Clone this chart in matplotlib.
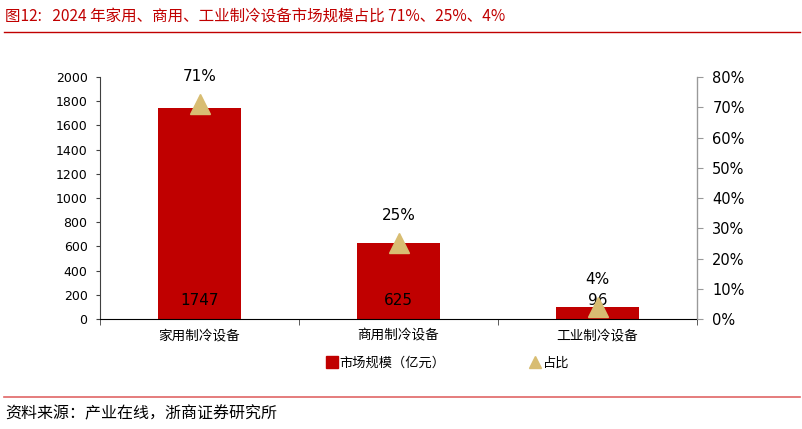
import numpy as np
import matplotlib
matplotlib.use('Agg')
import matplotlib.pyplot as plt
from matplotlib.lines import Line2D
from matplotlib.ticker import FuncFormatter

plt.rcParams['font.family'] = ['DejaVu Sans', 'Noto Sans CJK SC']

# données
categories = ['家用制冷设备', '商用制冷设备', '工业制冷设备']
market_size = [1747, 625, 96]        # 亿元
share = [0.71, 0.25, 0.04]
share_labels = ['71%', '25%', '4%']
left_ticks = [0, 200, 400, 600, 800, 1000, 1200, 1400, 1600, 1800, 2000]
right_ticks = [0, 0.1, 0.2, 0.3, 0.4, 0.5, 0.6, 0.7, 0.8]

title = '图12:   2024 年家用、商用、工业制冷设备市场规模占比 71%、25%、4%'
source = '资料来源：产业在线，浙商证券研究所'

RED = '#C00000'
GOLD = '#D8BD72'
CJK = ['Noto Sans CJK SC', 'DejaVu Sans']

fig = plt.figure(figsize=(8.02, 4.29), dpi=100)
ax = fig.add_axes([0.1247, 0.2564, 0.7444, 0.5641])
ax2 = ax.twinx()

x = np.arange(len(categories))
ax.bar(x, market_size, width=0.42, color=RED, zorder=2)
ax.set_xlim(-0.5, 2.5)
ax.set_ylim(0, 2000)
ax.set_yticks(left_ticks)
ax.tick_params(axis='y', labelsize=9, length=3, color='#404040', pad=6)

# valeurs des barres, en bas
for xi, v in zip(x, market_size):
    ax.text(xi, 150, str(v), ha='center', va='center', fontsize=11, color='black', zorder=5)

ax.set_xticks(x)
ax.set_xticklabels(categories, family=CJK, fontsize=9.8)
ax.set_xticks([-0.5, 0.5, 1.5, 2.5], minor=True)
ax.tick_params(axis='x', which='major', length=0, pad=7)
ax.tick_params(axis='x', which='minor', length=4, color='#404040')

ax2.plot(x, share, linestyle='none', marker='^', markersize=15, color=GOLD, zorder=4)
ax2.set_ylim(0, 0.8)
ax2.set_yticks(right_ticks)
ax2.yaxis.set_major_formatter(FuncFormatter(lambda v, p: '%d%%' % round(v * 100)))
ax2.tick_params(axis='y', labelsize=10.5, length=4, color='#999999', pad=7)
for xi, s, lab in zip(x, share, share_labels):
    ax2.annotate(lab, (xi, s), xytext=(0, 20), textcoords='offset points',
                 ha='center', va='center', fontsize=11)

for a in (ax, ax2):
    a.spines['top'].set_visible(False)
ax.spines['left'].set_color('#404040')
ax.spines['bottom'].set_color('black')
ax2.spines['left'].set_visible(False)
ax2.spines['bottom'].set_visible(False)
ax2.spines['right'].set_color('#999999')
ax.set_zorder(ax2.get_zorder() - 1)
ax2.patch.set_visible(False)
ax.patch.set_visible(False)

# légende
handles = [Line2D([], [], linestyle='none', marker='s', markersize=9, color=RED),
           Line2D([], [], linestyle='none', marker='^', markersize=9, color=GOLD)]
fig.legend(handles, ['市场规模（亿元）', '占比'], loc='center left', bbox_to_anchor=(0.397, 0.154),
           ncol=2, frameon=False, prop={'family': CJK, 'size': 9.5},
           handletextpad=0.1, columnspacing=6.3, handlelength=1.0, borderpad=0)

# titre et source
fig.text(0.006, 0.963, title, family=CJK, fontsize=11.2, color=RED, ha='left', va='center')
fig.add_artist(Line2D([0.005, 0.998], [0.925, 0.925], color=RED, linewidth=1.0))
fig.add_artist(Line2D([0.005, 0.998], [0.074, 0.074], color='#E06666', linewidth=1.2))
fig.text(0.006, 0.036, source, family=CJK, fontsize=11.5, color='black', ha='left', va='center')

fig.savefig('out.png', dpi=100)
